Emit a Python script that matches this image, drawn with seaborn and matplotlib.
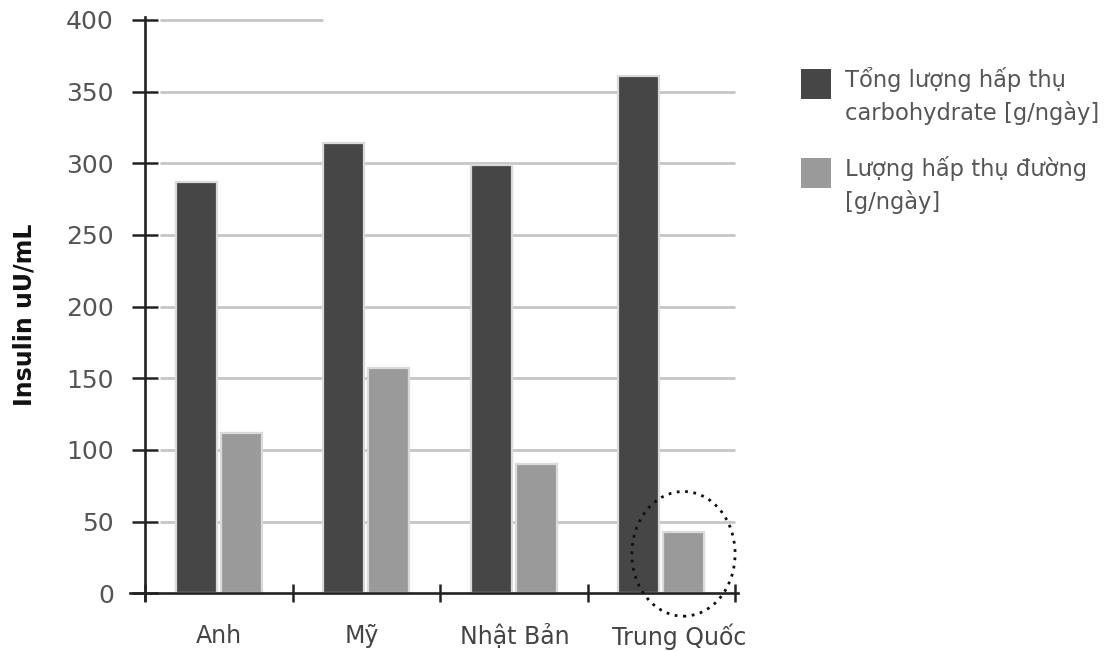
import numpy as np
import pandas as pd
import matplotlib
matplotlib.use("Agg")
import matplotlib.pyplot as plt
from matplotlib.patches import Ellipse, Rectangle
import seaborn as sns

# Data
countries = ["Anh", "Mỹ", "Nhật Bản", "Trung Quốc"]
series_names = ["Tổng lượng hấp thụ\ncarbohydrate [g/ngày]",
                "Lượng hấp thụ đường\n[g/ngày]"]
carb_total = [287, 314, 299, 361]
sugar_total = [112, 157, 90, 43]
y_ticks = [0, 50, 100, 150, 200, 250, 300, 350, 400]
y_label = "Insulin uU/mL"

df = pd.DataFrame({
    "country": countries * 2,
    "series": [series_names[0]] * len(countries) + [series_names[1]] * len(countries),
    "value": carb_total + sugar_total,
})

sns.set_theme(style="white")
plt.rcParams["font.family"] = ["DejaVu Sans"]

dark = "#464646"
light = "#9a9a9a"
grid_c = "#c6c6c6"
axis_c = "#222222"
text_c = "#555555"

W, H = 1107, 651
fig = plt.figure(figsize=(W / 100, H / 100), dpi=100)
ax = fig.add_axes([0.1177, 0.0777, 0.549, 0.896])

sns.barplot(data=df, x="country", y="value", hue="series",
            palette=[dark, light], width=0.61, gap=0.09,
            edgecolor="#dadada", linewidth=1.6, saturation=1,
            legend=False, ax=ax, zorder=2)

ax.set_xlim(-0.6, 3.52)
ax.set_ylim(-5, 402)

# horizontal guide lines
for v in y_ticks[1:-1]:
    ax.hlines(v, -0.398, 3.5, color=grid_c, lw=2, zorder=1)
ax.hlines(400, -0.398, 0.707, color=grid_c, lw=2, zorder=1)

# axes and ticks
for s in ["top", "right"]:
    ax.spines[s].set_visible(False)
ax.spines["left"].set_position(("data", -0.5))
ax.spines["bottom"].set_position(("data", 0))
for s in ["left", "bottom"]:
    ax.spines[s].set_color(axis_c)
    ax.spines[s].set_linewidth(1.9)

ax.set_yticks(y_ticks)
ax.set_yticklabels([str(v) for v in y_ticks])
ax.tick_params(axis="y", direction="inout", length=19, width=1.8,
               color=axis_c, labelsize=18, labelcolor=text_c, pad=13, left=True)

# group separators as major ticks, country names as minor tick labels
ax.set_xticks([-0.5, 0.5, 1.5, 2.5, 3.5])
ax.set_xticklabels([])
ax.set_xticks([0, 0.97, 2.01, 3.12], minor=True)
ax.set_xticklabels(countries, minor=True)
ax.tick_params(axis="x", which="major", direction="inout", length=13,
               width=1.8, color=axis_c, bottom=True)
ax.tick_params(axis="x", which="minor", length=0, labelsize=17,
               labelcolor="#444444", pad=22)

ax.set_xlabel("")
ax.set_ylabel(y_label, fontsize=17, fontweight="bold", color="#111111")
ax.yaxis.set_label_coords(-0.155, 0.489)

# dotted highlight around the last sugar bar
ax.add_patch(Ellipse((3.15, 27.5), 0.70, 87, fill=False, ec="#111111",
                     lw=2, ls=(0, (1, 2)), clip_on=False, zorder=5))

# legend: colour swatch with a two-line label beside it
entry_tops = [69, 158]
for name, color, top in zip(series_names, [dark, light], entry_tops):
    fig.add_artist(Rectangle((801 / W, 1 - (top + 30) / H), 30 / W, 30 / H,
                             transform=fig.transFigure, facecolor=color,
                             edgecolor="none"))
    for j, line in enumerate(name.split("\n")):
        fig.text(845 / W, 1 - (top + 18 + 33 * j) / H, line, fontsize=16.3,
                 color=text_c, ha="left", va="baseline")

fig.savefig("out.png", dpi=100, facecolor="white")
